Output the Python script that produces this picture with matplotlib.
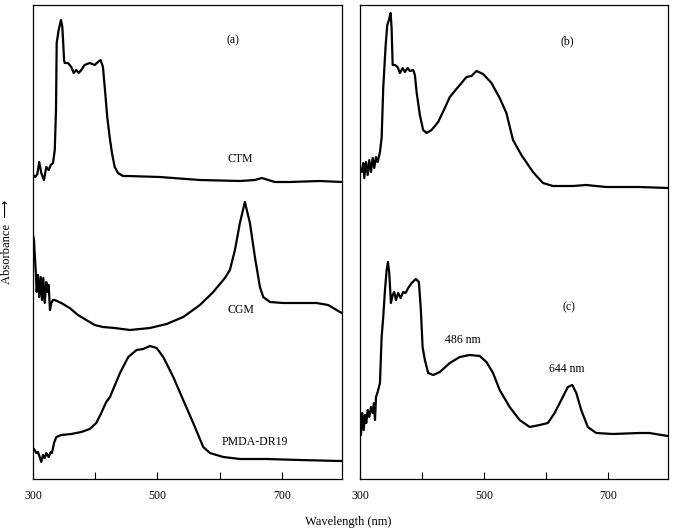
import matplotlib
matplotlib.use("Agg")
import matplotlib.pyplot as plt

# ---------- data (wavelength nm, absorbance arbitrary units, stacked offsets) ----------
ctm_x = [300, 303.7, 307, 310, 313.3, 317.7, 321.4, 325.3, 328.5, 332.2, 335, 337, 338.1, 341.3, 345,
         347.2, 350, 351, 356.3, 361.6, 365.5, 369.6, 373.5, 377.7, 383, 391.2, 399.3, 404.5, 408.8,
         412.5, 416.2, 419.4, 423.3, 427, 431.4, 436.7, 444.7, 452.7, 504, 568, 633, 657, 668, 689,
         713, 761, 797]
ctm_y = [304, 302, 305, 317, 306, 299, 312, 309, 314, 316, 329, 369, 436, 449, 459,
         452, 419, 416, 416, 412, 406, 409, 406, 409, 414, 416, 414, 417, 419,
         412, 386, 362, 342, 326, 312, 306, 303, 303, 302, 299, 298, 299, 301, 297,
         297, 298, 297]

cgm_x = [300, 301.6, 302.7, 304.3, 305.9, 308, 310.1, 312.4, 314.5, 316.6, 318.8, 321.4, 323, 325.2,
         327.3, 329.4, 332.2, 334.9, 345.5, 359, 372.3, 385.7, 399.2, 412.5, 431.3, 455.9, 488.1,
         514.9, 541.6, 568.5, 589.9, 608.7, 616.7, 624.8, 632.8, 640.8, 648.9, 656.9, 665, 670.3,
         681.1, 702, 729.3, 756.1, 774.8, 793.6, 797]
cgm_y = [244, 239, 226, 209, 187, 204, 182, 202, 179, 201, 176, 197, 187, 194,
         169, 176, 179, 179, 176, 171, 164, 159, 154, 152, 151, 149, 151,
         155, 162, 174, 187, 201, 209, 229, 256, 277, 256, 222, 192, 182,
         177, 176, 176, 176, 174, 167, 166]

pmda_x = [300, 302.7, 305.3, 308, 310.8, 313.3, 316.1, 318.8, 321.4, 325.2, 328.5, 330.5, 333.8,
          337.5, 345.5, 361.6, 377.7, 391.2, 401.8, 409.8, 417.8, 423.8, 439.9, 453.2, 466.7, 477.3,
          488.1, 498.9, 509.5, 525.6, 541.6, 557.7, 573.8, 584.6, 606, 632.8, 675.7, 729.3, 793.6, 797]
pmda_y = [31, 29, 26, 27, 22, 17, 24, 21, 26, 22, 27, 26, 36,
          42, 44, 45, 47, 50, 56, 66, 77, 82, 106, 122, 129, 130,
          133, 131, 122, 102, 79, 56, 32, 26, 22, 20, 20, 19, 18, 18]

b_x = [300, 302.7, 305.3, 306.9, 309.7, 312.4, 315, 317.7, 320.5, 323, 325.8, 328.5, 332.2, 334.9,
       337.5, 341.4, 344, 346.7, 349.4, 351, 352.7, 356.4, 360.7, 364.4, 368.8, 372.5, 376.8, 380.5,
       385.8, 388.6, 391.3, 396.6, 401.9, 407.4, 415.5, 426.1, 436.9, 444.9, 461, 471.8, 479.9,
       487.9, 498.6, 512.1, 525.4, 536.2, 546.9, 560.4, 579.1, 595.2, 611.3, 643.5, 665.1, 697.3,
       750.9, 796.5]
b_y = [311, 307, 316, 301, 317, 304, 319, 307, 321, 311, 322, 317, 327, 341,
       391, 434, 454, 459, 466, 451, 414, 414, 412, 406, 411, 407, 411, 408,
       409, 404, 387, 364, 349, 346, 349, 357, 371, 382, 394, 402, 403,
       408, 405, 396, 381, 366, 339, 324, 307, 296, 293, 293, 294, 292,
       292, 291]

c_x = [300, 301.6, 303.7, 306, 308.1, 310.1, 312.4, 315, 317.7, 320.5, 322.5, 324.2, 325.8, 328.5,
       332.2, 334.9, 337.5, 340.3, 343, 345.1, 347.2, 349.9, 352.7, 355.2, 358, 361.7, 365.5, 369.7,
       373.6, 377.8, 383.3, 390.2, 395, 398.2, 401, 404.7, 410, 418, 428.8, 444.9, 461, 477.1,
       493.2, 504, 514.7, 525.4, 541.5, 557.6, 573.8, 589.9, 603.2, 614, 624.8, 635.4, 642.5, 649,
       657, 667.6, 681.2, 707.9, 750.9, 767, 796.5]
c_y = [52, 44, 66, 49, 64, 56, 69, 62, 72, 66, 76, 59, 82, 87,
       96, 142, 162, 189, 209, 217, 206, 176, 184, 187, 179, 186, 181, 187,
       186, 191, 196, 200, 197, 169, 132, 119, 106, 104, 107, 116, 122, 124,
       123, 117, 106, 89, 72, 59, 52, 54, 56, 66, 79, 92, 94, 86,
       69, 52, 46, 45, 46, 46, 43]

xticks = [300, 400, 500, 600, 700]
xticklabels = ["300", "", "500", "", "700"]

plt.rcParams['font.family'] = ['Liberation Serif', 'DejaVu Sans']

fig = plt.figure(figsize=(6.75, 5.28), dpi=100)
W, H = 675.0, 528.0
axL = fig.add_axes([33 / W, 1 - 479 / H, 309 / W, 474 / H])
axR = fig.add_axes([360 / W, 1 - 479 / H, 308 / W, 474 / H])

style = dict(color='black', lw=1.6, solid_joinstyle='round', solid_capstyle='round')
axL.plot(ctm_x, ctm_y, **style)
axL.plot(cgm_x, cgm_y, **style)
axL.plot(pmda_x, pmda_y, **style)
axR.plot(b_x, b_y, **style)
axR.plot(c_x, c_y, **style)

for ax in (axL, axR):
    ax.set_xlim(300, 797)
    ax.set_ylim(0, 474)
    ax.set_yticks([])
    ax.set_xticks(xticks)
    ax.set_xticklabels(xticklabels)
    ax.tick_params(axis='x', direction='in', length=5, width=0.8, labelsize=8.5, pad=8)
    for s in ax.spines.values():
        s.set_linewidth(0.9)

fs = 8.5
axL.text(621, 439, "(a)", fontsize=fs, ha='center', va='center')
axL.text(633, 320, "CTM", fontsize=fs, ha='center', va='center')
axL.text(634, 169, "CGM", fontsize=fs, ha='center', va='center')
axL.text(657, 37, "PMDA-DR19", fontsize=fs, ha='center', va='center')
axR.text(635, 438, "(b)", fontsize=fs, ha='center', va='center')
axR.text(637, 172, "(c)", fontsize=fs, ha='center', va='center')
axR.text(466, 139, "486 nm", fontsize=fs, ha='center', va='center')
axR.text(633, 110, "644 nm", fontsize=fs, ha='center', va='center')

fig.text(348 / W, 1 - 522 / H, "Wavelength (nm)", fontsize=9, ha='center', va='center')
fig.text(7 / W, 1 - 242 / H, "Absorbance  \u27f6", fontsize=9, ha='center', va='center',
         rotation=90, family=['Liberation Serif', 'DejaVu Sans'])

fig.savefig("out.png", dpi=100)
